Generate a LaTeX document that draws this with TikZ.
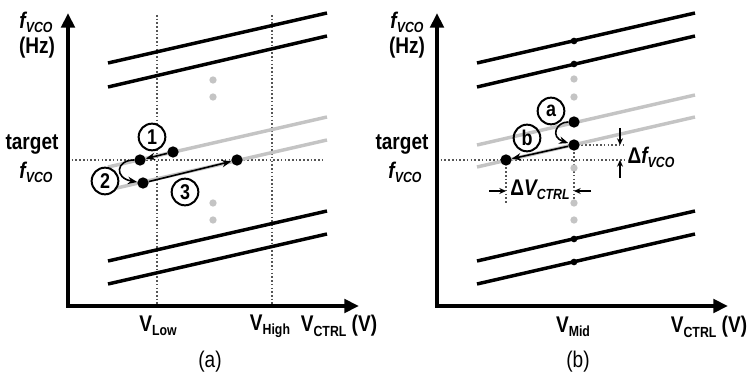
\documentclass[tikz,border=0pt]{standalone}
\usepackage{fontspec}
\setmainfont{Liberation Sans}[FakeStretch=0.84]
\usetikzlibrary{arrows.meta, positioning, backgrounds}
\usepackage{xcolor}
\definecolor{grisclair}{RGB}{196,196,196}
\definecolor{grisfonce}{RGB}{85,85,85}

\newcommand{\subtxt}[1]{\raisebox{-0.35ex}{\fontsize{11}{11}\selectfont #1}}
\newcommand{\fvco}{\textit{f\subtxt{VCO}}}

\begin{document}
\begin{tikzpicture}[
    x=0.75pt, y=-0.75pt,
    >=Stealth,
    axe/.style={line width=3pt,
        {Triangle[length=11pt,width=10pt]}-{Triangle[length=11pt,width=10pt]}},
    courbe/.style={line width=2.6pt},
    grise/.style={line width=2.6pt, grisclair},
    pointille/.style={grisfonce, line width=0.8pt, dash pattern=on 1.2pt off 1.6pt},
    dot/.style={circle, fill, inner sep=0pt, minimum size=8.5pt},
    petitdot/.style={circle, fill, inner sep=0pt, minimum size=5pt},
    graydot/.style={circle, fill=grisclair, inner sep=0pt, minimum size=5.5pt},
    fleche/.style={line width=1.2pt, -{Stealth[length=7pt,width=5.5pt]}},
    cote/.style={line width=1pt, -{Stealth[length=5pt,width=4.5pt]}},
    etape/.style={circle, draw, line width=1.5pt, inner sep=0pt,
                  minimum size=20pt, font=\fontsize{16}{16}\selectfont\bfseries},
    lbl/.style={font=\fontsize{17}{18}\selectfont\bfseries, align=center},
    legende/.style={font=\fontsize{17}{18}\selectfont}
]
\useasboundingbox (0,0) rectangle (752,384);

% ============================================================
%  (a)  VLow / VHigh
% ============================================================
\coordinate (ya) at (68,13);
\coordinate (oa) at (68,306);
\coordinate (xa) at (359,306);

% --- lignes pointillees ---
\draw[pointille] (157,15) -- (157,306);
\draw[pointille] (272,15) -- (272,306);
\draw[pointille] (68,160) -- (323,160);

% --- courbes ---
\draw[grise] (108,167) -- (327,117);
\draw[grise] (108,190) -- (327,140);
\draw[courbe] (108,63) -- (327,13);
\draw[courbe] (108,87) -- (327,36);
\draw[courbe] (108,261) -- (327,211);
\draw[courbe] (108,284) -- (327,234);

\node[graydot] (ga1) at (213,80) {};
\node[graydot] (ga2) at (213,97) {};
\node[graydot] (ga3) at (213,203) {};
\node[graydot] (ga4) at (213,220) {};

\draw[axe] (ya) |- (xa);

% --- etapes 1, 2, 3 ---
\node[dot] (p1) at (173,152) {};
\node[dot] (p2) at (140,160) {};
\node[dot] (p3) at (143,183) {};
\node[dot] (p4) at (237,160) {};
\draw[fleche] (p1) -- (p2);
\draw[fleche] (p2) .. controls (116,160) and (114,178) .. (p3);
\draw[fleche] (p3) -- (p4);
\node[etape, fill=white] (e1) at (152,137) {1};
\node[etape, fill=white] (e2) at (105,181) {2};
\node[etape] (e3) at (185,192) {3};

% --- textes ---
\node[lbl] (fa) at (36,22) {\fvco};
\node[lbl] (hza) at (37,48) {(Hz)};
\node[lbl] (ta) at (32,145) {target};
\node[lbl] (fta) at (36,172) {\fvco};
\node[lbl] (vlow) at (158,326) {V\subtxt{Low}};
\node[lbl] (vhigh) at (270,326) {V\subtxt{High}};
\node[lbl] (vca) at (339,326) {V\subtxt{CTRL} (V)};
\node[legende] (capa) at (210,362) {(a)};

% ============================================================
%  (b)  VMid
% ============================================================
\coordinate (yb) at (437,13);
\coordinate (ob) at (437,306);
\coordinate (xb) at (728,306);

% --- courbes ---
\draw[grise] (477,145) -- (695,95);
\draw[grise] (477,167) -- (695,117);
\draw[courbe] (477,63) -- (695,13);
\draw[courbe] (477,87) -- (695,36);
\draw[courbe] (477,261) -- (695,211);
\draw[courbe] (477,284) -- (695,234);

\node[petitdot] (m1) at (574,41) {};
\node[petitdot] (m2) at (574,64) {};
\node[petitdot] (m3) at (574,239) {};
\node[petitdot] (m4) at (574,262) {};
\node[graydot] (gb1) at (574,79) {};
\node[graydot] (gb2) at (574,97) {};
\node[graydot] (gb3) at (574,168) {};
\node[graydot] (gb4) at (574,203) {};
\node[graydot] (gb5) at (574,220) {};

\draw[axe] (yb) |- (xb);

% --- points a, b ---
\node[dot] (pa) at (574,122) {};
\node[dot] (pb) at (574,145) {};
\node[dot] (pc) at (506,160) {};

% --- cotes ---
\coordinate (dfh) at (625,145);
\coordinate (dfb) at (625,160);
\coordinate (dvg) at (506,203);
\coordinate (dvd) at (574,205);
\begin{scope}[on background layer]
\draw[pointille] (437,160) -- (dfb);
\draw[pointille] (pb.center) -- (dfh);
\draw[pointille] (pc.center) -- (dvg);
\draw[pointille] (pb.center) -- (dvd);
\end{scope}

\coordinate (fh) at (620,145);
\coordinate (fl) at (620,160);
\coordinate (vg) at (506,191);
\coordinate (vd) at (574,191);
\draw[cote] (620,128) -- (fh);
\draw[cote] (620,178) -- (fl);
\draw[cote] (489,191) -- (vg);
\draw[cote] (591,191) -- (vd);

\draw[fleche] (pa) .. controls (556,122) and (550,137) .. (pb);
\draw[fleche] (pb) -- (pc);
\node[etape] (ea) at (551,111) {a};
\node[etape] (eb) at (527,138) {b};

% --- textes ---
\node[lbl] (fvb) at (407,22) {\fvco};
\node[lbl] (hzb) at (407,48) {(Hz)};
\node[lbl] (tb) at (402,145) {target};
\node[lbl] (ftb) at (405,172) {\fvco};
\node[lbl] (dfvco) at (651,157) {Δ\fvco};
\node[lbl] (dvctrl) at (540,190) {Δ\textit{V\subtxt{CTRL}}};
\node[lbl] (vmid) at (573,327) {V\subtxt{Mid}};
\node[lbl] (vcb) at (709,327) {V\subtxt{CTRL} (V)};
\node[legende] (capb) at (578,362) {(b)};

\end{tikzpicture}
\end{document}
